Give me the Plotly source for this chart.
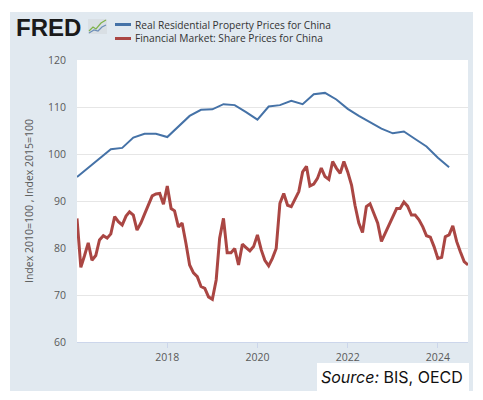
import plotly.graph_objects as go
import pandas as pd

# ---- data ----
property_dates = pd.date_range("2016-01-01", periods=34, freq="QS").strftime("%Y-%m-%d").tolist()
property_values = [
    95.1, 97.0, 98.9, 101.0,
    101.3, 103.5, 104.3, 104.3,
    103.6, 105.8, 108.1, 109.4,
    109.5, 110.6, 110.4, 108.9,
    107.3, 110.1, 110.4, 111.3,
    110.6, 112.7, 113.0, 111.6,
    109.6, 108.1, 106.8, 105.4,
    104.4, 104.8, 103.2, 101.6,
    99.2, 97.2,
]

share_dates = pd.date_range("2016-01-01", periods=105, freq="MS").strftime("%Y-%m-%d").tolist()
share_values = [
    86.3, 75.9, 78.3, 81.1, 77.4, 78.4, 81.7, 82.6, 82.1, 83.0, 86.7, 85.6,
    84.9, 86.8, 87.7, 87.0, 83.8, 85.3, 87.2, 89.1, 91.1, 91.5, 91.6, 89.3,
    93.2, 88.4, 87.9, 84.5, 85.3, 81.0, 76.4, 74.7, 73.9, 71.8, 71.4, 69.6,
    69.1, 73.2, 82.1, 86.3, 79.0, 79.0, 79.9, 76.4, 80.8, 80.1, 79.4, 80.3,
    82.8, 79.6, 77.4, 76.2, 77.8, 79.9, 89.5, 91.6, 89.1, 88.8, 90.4, 92.0,
    96.2, 97.4, 93.2, 93.6, 94.8, 97.0, 95.2, 94.6, 98.4, 97.0, 95.9, 98.4,
    96.2, 93.4, 89.1, 85.3, 83.3, 88.8, 89.4, 87.5, 85.3, 81.4, 83.1, 84.9,
    86.7, 88.4, 88.4, 89.8, 88.9, 87.0, 87.0, 86.0, 84.5, 82.6, 82.3, 80.3,
    77.8, 78.0, 82.4, 82.8, 84.7, 81.4, 79.2, 77.1, 76.4,
]

series_names = ["Real Residential Property Prices for China",
                "Financial Market: Share Prices for China"]
series_colors = ["#4572a7", "#aa4643"]
y_ticks = [60, 70, 80, 90, 100, 110, 120]
x_ticks = ["2018-01-01", "2020-01-01", "2022-01-01", "2024-01-01"]
x_tick_labels = ["2018", "2020", "2022", "2024"]

# ---- layout geometry (pixels) ----
W, H = 483, 400
L, R, T, B = 77, 15, 60, 58
PW, PH = W - L - R, H - T - B


def px(xp):
    return (xp - L) / PW


def py(yp):
    return (H - B - yp) / PH


fig = go.Figure()
fig.add_trace(go.Scatter(x=property_dates, y=property_values, mode="lines",
                         name=series_names[0],
                         line=dict(color=series_colors[0], width=2)))
fig.add_trace(go.Scatter(x=share_dates, y=share_values, mode="lines",
                         name=series_names[1],
                         line=dict(color=series_colors[1], width=3)))

shapes = [
    # FRED panel background
    dict(type="rect", xref="paper", yref="paper", x0=px(10), x1=px(473),
         y0=py(391), y1=py(12), fillcolor="#e1e9f0", line=dict(width=0), layer="below"),
    # plot area
    dict(type="rect", xref="paper", yref="paper", x0=0, x1=1, y0=0, y1=1,
         fillcolor="white", line=dict(width=0), layer="below"),
    # source box
    dict(type="rect", xref="paper", yref="paper", x0=px(317), x1=px(469),
         y0=py(391), y1=py(363), fillcolor="white", line=dict(width=0), layer="above"),
    # legend samples
    dict(type="line", xref="paper", yref="paper", x0=px(115), x1=px(131),
         y0=py(24.5), y1=py(24.5), line=dict(color=series_colors[0], width=3)),
    dict(type="line", xref="paper", yref="paper", x0=px(115), x1=px(131),
         y0=py(38.5), y1=py(38.5), line=dict(color=series_colors[1], width=3)),
    # FRED icon
    dict(type="rect", xref="paper", yref="paper", x0=px(88), x1=px(107),
         y0=py(34), y1=py(19), fillcolor="#d9dfe4", line=dict(width=0)),
    dict(type="path", xref="paper", yref="paper",
         path=f"M {px(89)},{py(31)} L {px(93)},{py(27)} L {px(96)},{py(29)} L {px(101)},{py(23)} L {px(106)},{py(20)}",
         line=dict(color="#7fb24a", width=1.2)),
    dict(type="path", xref="paper", yref="paper",
         path=f"M {px(89)},{py(33)} L {px(94)},{py(30)} L {px(98)},{py(31)} L {px(102)},{py(27)} L {px(106)},{py(25)}",
         line=dict(color="#6d8fb8", width=1.2)),
]

annotations = [
    dict(text="<b>FRED</b>", xref="paper", yref="paper", x=px(14), y=py(27),
         xanchor="left", yanchor="middle", showarrow=False,
         font=dict(family="Liberation Sans", size=24, color="#1a1a1a")),
    dict(text=series_names[0], xref="paper", yref="paper", x=px(133), y=py(24.5),
         xanchor="left", yanchor="middle", showarrow=False,
         font=dict(family="Open Sans", size=10.2, color="#333333")),
    dict(text=series_names[1], xref="paper", yref="paper", x=px(133), y=py(38.5),
         xanchor="left", yanchor="middle", showarrow=False,
         font=dict(family="Open Sans", size=10.2, color="#333333")),
    dict(text="<i>Source:</i> BIS, OECD", xref="paper", yref="paper", x=px(465), y=py(377),
         xanchor="right", yanchor="middle", showarrow=False,
         font=dict(family="Inter", size=16, color="#111111")),
]

fig.update_layout(
    width=W, height=H,
    margin=dict(l=L, r=R, t=T, b=B),
    paper_bgcolor="white", plot_bgcolor="white",
    showlegend=False,
    font=dict(family="Open Sans", size=10, color="#595959"),
    shapes=shapes, annotations=annotations,
    xaxis=dict(type="date", range=["2016-01-01", "2024-09-01"],
               tickvals=x_ticks, ticktext=x_tick_labels,
               showgrid=False, ticks="outside", ticklen=5, tickcolor="#ccd6eb",
               showline=True, linecolor="#ccd6eb", linewidth=1, zeroline=False,
               tickfont=dict(size=10.5, color="#595959")),
    yaxis=dict(range=[60, 120], tickvals=y_ticks, showgrid=True,
               gridcolor="#e6e6e6", gridwidth=1, zeroline=False,
               ticklabelstandoff=10, tickfont=dict(size=10.5, color="#595959"),
               title=dict(text="Index 2010=100 , Index 2015=100", standoff=12,
                          font=dict(size=10.5, color="#595959"))),
)

fig.write_html("out.html", config={"displayModeBar": False},
               post_script="document.body.style.margin='0';")
